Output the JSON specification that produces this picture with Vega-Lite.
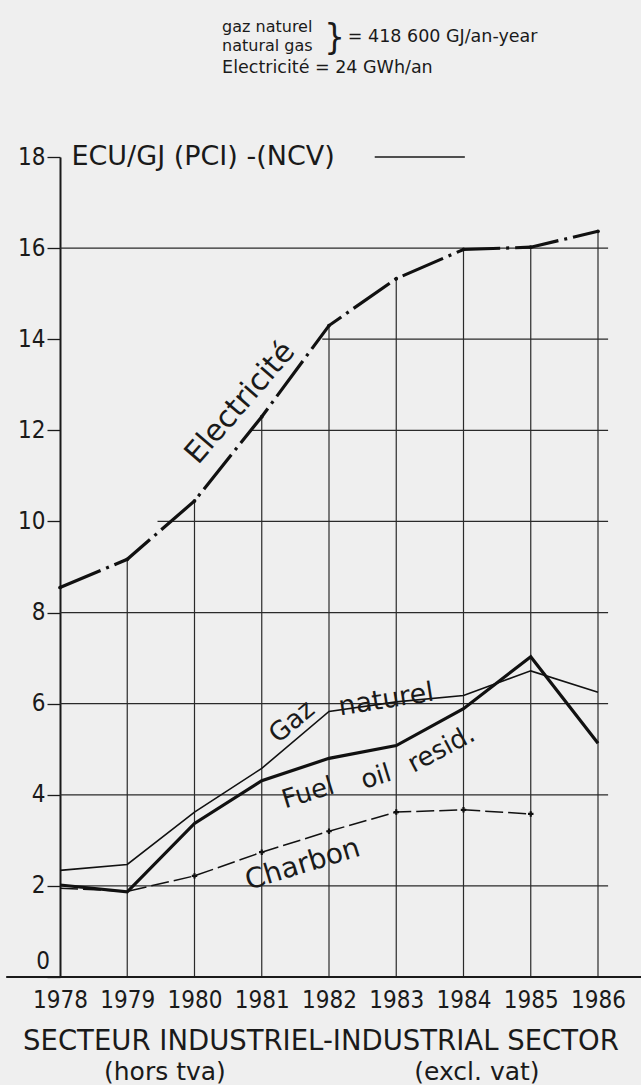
{
  "$schema": "https://vega.github.io/schema/vega-lite/v6.json",
  "width": 538,
  "height": 820,
  "autosize": {"type": "none"},
  "padding": {"left": 60, "top": 157, "right": 43, "bottom": 108},
  "background": "#efefef",
  "config": {
    "view": {"stroke": null},
    "font": "DejaVu Sans",
    "text": {"font": "DejaVu Sans", "color": "#1a1a1a"}
  },
  "data": {"values": [{"note": 1}]},
  "datasets": {
    "prices": [
      {"year": 1978, "series": "Electricité", "value": 8.55},
      {"year": 1979, "series": "Electricité", "value": 9.17},
      {"year": 1980, "series": "Electricité", "value": 10.45},
      {"year": 1981, "series": "Electricité", "value": 12.3},
      {"year": 1982, "series": "Electricité", "value": 14.3},
      {"year": 1983, "series": "Electricité", "value": 15.33},
      {"year": 1984, "series": "Electricité", "value": 15.97},
      {"year": 1985, "series": "Electricité", "value": 16.02},
      {"year": 1986, "series": "Electricité", "value": 16.37},
      {"year": 1978, "series": "Gaz naturel", "value": 2.34},
      {"year": 1979, "series": "Gaz naturel", "value": 2.47},
      {"year": 1980, "series": "Gaz naturel", "value": 3.62},
      {"year": 1981, "series": "Gaz naturel", "value": 4.58},
      {"year": 1982, "series": "Gaz naturel", "value": 5.83},
      {"year": 1983, "series": "Gaz naturel", "value": 6.04},
      {"year": 1984, "series": "Gaz naturel", "value": 6.18},
      {"year": 1985, "series": "Gaz naturel", "value": 6.72},
      {"year": 1986, "series": "Gaz naturel", "value": 6.25},
      {"year": 1978, "series": "Fuel oil resid.", "value": 2.02},
      {"year": 1979, "series": "Fuel oil resid.", "value": 1.87},
      {"year": 1980, "series": "Fuel oil resid.", "value": 3.37},
      {"year": 1981, "series": "Fuel oil resid.", "value": 4.31},
      {"year": 1982, "series": "Fuel oil resid.", "value": 4.8},
      {"year": 1983, "series": "Fuel oil resid.", "value": 5.08},
      {"year": 1984, "series": "Fuel oil resid.", "value": 5.89},
      {"year": 1985, "series": "Fuel oil resid.", "value": 7.03},
      {"year": 1986, "series": "Fuel oil resid.", "value": 5.13},
      {"year": 1978, "series": "Charbon", "value": 1.95},
      {"year": 1979, "series": "Charbon", "value": 1.88},
      {"year": 1980, "series": "Charbon", "value": 2.22},
      {"year": 1981, "series": "Charbon", "value": 2.74},
      {"year": 1982, "series": "Charbon", "value": 3.2},
      {"year": 1983, "series": "Charbon", "value": 3.62},
      {"year": 1984, "series": "Charbon", "value": 3.67},
      {"year": 1985, "series": "Charbon", "value": 3.58}
    ],
    "gridlines": [
      {"level": 2, "start": 1978, "end": 1986.15},
      {"level": 4, "start": 1978, "end": 1986.15},
      {"level": 6, "start": 1978, "end": 1986.15},
      {"level": 8, "start": 1978, "end": 1986.15},
      {"level": 10, "start": 1979.45, "end": 1986.15},
      {"level": 12, "start": 1980.85, "end": 1986.15},
      {"level": 14, "start": 1981.9, "end": 1986.15},
      {"level": 16, "start": 1978, "end": 1986.15}
    ]
  },
  "layer": [
    {
      "data": {"name": "prices"},
      "mark": {"type": "point", "opacity": 0},
      "encoding": {
        "x": {
          "field": "year", "type": "quantitative",
          "scale": {"domain": [1978, 1986], "nice": false, "zero": false},
          "axis": {
            "values": [1978, 1979, 1980, 1981, 1982, 1983, 1984, 1985, 1986],
            "format": "d", "title": null, "grid": false, "ticks": false, "domain": false,
            "labelFont": "DejaVu Sans Condensed", "labelFontSize": 24, "labelColor": "#1a1a1a",
            "labelPadding": 11, "labelFlush": false
          }
        },
        "y": {
          "field": "value", "type": "quantitative",
          "scale": {"domain": [0, 18], "nice": false},
          "axis": {
            "values": [0, 2, 4, 6, 8, 10, 12, 14, 16, 18],
            "labelExpr": "datum.value == 0 ? '' : datum.label",
            "title": null, "grid": false, "tickSize": 13, "tickColor": "#1a1a1a", "tickWidth": 1.3,
            "domainColor": "#1a1a1a", "domainWidth": 2,
            "labelFont": "DejaVu Sans Condensed", "labelFontSize": 24, "labelColor": "#1a1a1a",
            "labelPadding": 2, "labelFlush": false
          }
        }
      }
    },
    {
      "data": {"name": "gridlines"},
      "mark": {"type": "rule", "stroke": "#2a2a2a", "strokeWidth": 1.2},
      "encoding": {
        "y": {"field": "level", "type": "quantitative"},
        "x": {"field": "start", "type": "quantitative"},
        "x2": {"field": "end"}
      }
    },
    {
      "data": {"name": "prices"},
      "transform": [{"filter": "datum.series == 'Electricité' && datum.year > 1978"}],
      "mark": {"type": "rule", "stroke": "#2a2a2a", "strokeWidth": 1.2},
      "encoding": {
        "x": {"field": "year", "type": "quantitative"},
        "y": {"field": "value", "type": "quantitative"},
        "y2": {"datum": 0}
      }
    },
    {
      "data": {"name": "prices"},
      "transform": [{"filter": "datum.series == 'Electricité'"}],
      "mark": {"type": "line", "stroke": "#111", "strokeWidth": 3.2, "strokeDash": [44, 6, 3, 6]},
      "encoding": {"x": {"field": "year", "type": "quantitative"}, "y": {"field": "value", "type": "quantitative"}}
    },
    {
      "data": {"name": "prices"},
      "transform": [{"filter": "datum.series == 'Electricité'"}],
      "mark": {"type": "point", "filled": true, "color": "#111", "size": 14, "opacity": 1},
      "encoding": {"x": {"field": "year", "type": "quantitative"}, "y": {"field": "value", "type": "quantitative"}}
    },
    {
      "data": {"name": "prices"},
      "transform": [{"filter": "datum.series == 'Gaz naturel'"}],
      "mark": {"type": "line", "stroke": "#111", "strokeWidth": 1.6},
      "encoding": {"x": {"field": "year", "type": "quantitative"}, "y": {"field": "value", "type": "quantitative"}}
    },
    {
      "data": {"name": "prices"},
      "transform": [{"filter": "datum.series == 'Fuel oil resid.'"}],
      "mark": {"type": "line", "stroke": "#111", "strokeWidth": 3.2},
      "encoding": {"x": {"field": "year", "type": "quantitative"}, "y": {"field": "value", "type": "quantitative"}}
    },
    {
      "data": {"name": "prices"},
      "transform": [{"filter": "datum.series == 'Charbon'"}],
      "mark": {"type": "line", "stroke": "#111", "strokeWidth": 1.5, "strokeDash": [18, 5]},
      "encoding": {"x": {"field": "year", "type": "quantitative"}, "y": {"field": "value", "type": "quantitative"}}
    },
    {
      "data": {"name": "prices"},
      "transform": [{"filter": "datum.series == 'Charbon' && datum.year > 1979"}],
      "mark": {"type": "point", "shape": "cross", "filled": true, "color": "#111", "size": 30, "opacity": 1},
      "encoding": {"x": {"field": "year", "type": "quantitative"}, "y": {"field": "value", "type": "quantitative"}}
    },
    {
      "mark": {"type": "rule", "stroke": "#1a1a1a", "strokeWidth": 2},
      "encoding": {"x": {"datum": 1977.2, "type": "quantitative"}, "x2": {"datum": 1986.7}, "y": {"datum": 0, "type": "quantitative"}}
    },
    {
      "mark": {"type": "rule", "stroke": "#1a1a1a", "strokeWidth": 1.3},
      "encoding": {"x": {"datum": 1982.68, "type": "quantitative"}, "x2": {"datum": 1984.02}, "y": {"datum": 18, "type": "quantitative"}}
    },
    {
      "mark": {"type": "text", "text": "0", "font": "DejaVu Sans Condensed", "fontSize": 24, "align": "right", "baseline": "middle", "dx": -10},
      "encoding": {"x": {"datum": 1978, "type": "quantitative"}, "y": {"datum": 0.33, "type": "quantitative"}}
    },
    {
      "mark": {"type": "text", "text": "Electricité", "angle": -49, "fontSize": 30, "align": "center", "baseline": "middle"},
      "encoding": {"x": {"datum": 1980.68, "type": "quantitative"}, "y": {"datum": 12.6, "type": "quantitative"}}
    },
    {
      "mark": {"type": "text", "text": "Gaz", "angle": -40, "fontSize": 26, "align": "center", "baseline": "middle"},
      "encoding": {"x": {"datum": 1981.45, "type": "quantitative"}, "y": {"datum": 5.6, "type": "quantitative"}}
    },
    {
      "mark": {"type": "text", "text": "naturel", "angle": -9, "fontSize": 27, "align": "center", "baseline": "middle"},
      "encoding": {"x": {"datum": 1982.85, "type": "quantitative"}, "y": {"datum": 6.08, "type": "quantitative"}}
    },
    {
      "mark": {"type": "text", "text": "Fuel", "angle": -17, "fontSize": 26, "align": "center", "baseline": "middle"},
      "encoding": {"x": {"datum": 1981.69, "type": "quantitative"}, "y": {"datum": 4.04, "type": "quantitative"}}
    },
    {
      "mark": {"type": "text", "text": "oil", "angle": -17, "fontSize": 26, "align": "center", "baseline": "middle"},
      "encoding": {"x": {"datum": 1982.7, "type": "quantitative"}, "y": {"datum": 4.39, "type": "quantitative"}}
    },
    {
      "mark": {"type": "text", "text": "resid.", "angle": -28, "fontSize": 26, "align": "center", "baseline": "middle"},
      "encoding": {"x": {"datum": 1983.67, "type": "quantitative"}, "y": {"datum": 5.0, "type": "quantitative"}}
    },
    {
      "mark": {"type": "text", "text": "Charbon", "angle": -17, "fontSize": 28, "align": "center", "baseline": "middle"},
      "encoding": {"x": {"datum": 1981.61, "type": "quantitative"}, "y": {"datum": 2.46, "type": "quantitative"}}
    },
    {
      "mark": {"type": "text", "text": "ECU/GJ (PCI) -(NCV)", "fontSize": 27, "align": "left", "baseline": "middle"},
      "encoding": {"x": {"datum": 1978.17, "type": "quantitative"}, "y": {"datum": 18, "type": "quantitative"}}
    },
    {
      "mark": {"type": "text", "text": "gaz naturel", "fontSize": 16, "align": "left", "baseline": "middle"},
      "encoding": {"x": {"datum": 1980.41, "type": "quantitative"}, "y": {"datum": 20.85, "type": "quantitative"}}
    },
    {
      "mark": {"type": "text", "text": "natural gas", "fontSize": 16, "align": "left", "baseline": "middle"},
      "encoding": {"x": {"datum": 1980.41, "type": "quantitative"}, "y": {"datum": 20.44, "type": "quantitative"}}
    },
    {
      "mark": {"type": "text", "text": "}", "fontSize": 36, "align": "left", "baseline": "middle", "font": "DejaVu Sans Condensed"},
      "encoding": {"x": {"datum": 1981.93, "type": "quantitative"}, "y": {"datum": 20.62, "type": "quantitative"}}
    },
    {
      "mark": {"type": "text", "text": "= 418 600 GJ/an-year", "fontSize": 17.5, "align": "left", "baseline": "middle"},
      "encoding": {"x": {"datum": 1982.28, "type": "quantitative"}, "y": {"datum": 20.63, "type": "quantitative"}}
    },
    {
      "mark": {"type": "text", "text": "Electricité = 24 GWh/an", "fontSize": 17.5, "align": "left", "baseline": "middle"},
      "encoding": {"x": {"datum": 1980.41, "type": "quantitative"}, "y": {"datum": 19.95, "type": "quantitative"}}
    },
    {
      "mark": {"type": "text", "text": "SECTEUR INDUSTRIEL-INDUSTRIAL SECTOR", "fontSize": 27.5, "align": "center", "baseline": "alphabetic"},
      "encoding": {"x": {"datum": 1981.88, "type": "quantitative"}, "y": {"datum": -1.6, "type": "quantitative"}}
    },
    {
      "mark": {"type": "text", "text": "(hors tva)", "fontSize": 25, "align": "center", "baseline": "alphabetic"},
      "encoding": {"x": {"datum": 1979.56, "type": "quantitative"}, "y": {"datum": -2.26, "type": "quantitative"}}
    },
    {
      "mark": {"type": "text", "text": "(excl. vat)", "fontSize": 25, "align": "center", "baseline": "alphabetic"},
      "encoding": {"x": {"datum": 1984.2, "type": "quantitative"}, "y": {"datum": -2.26, "type": "quantitative"}}
    }
  ]
}
